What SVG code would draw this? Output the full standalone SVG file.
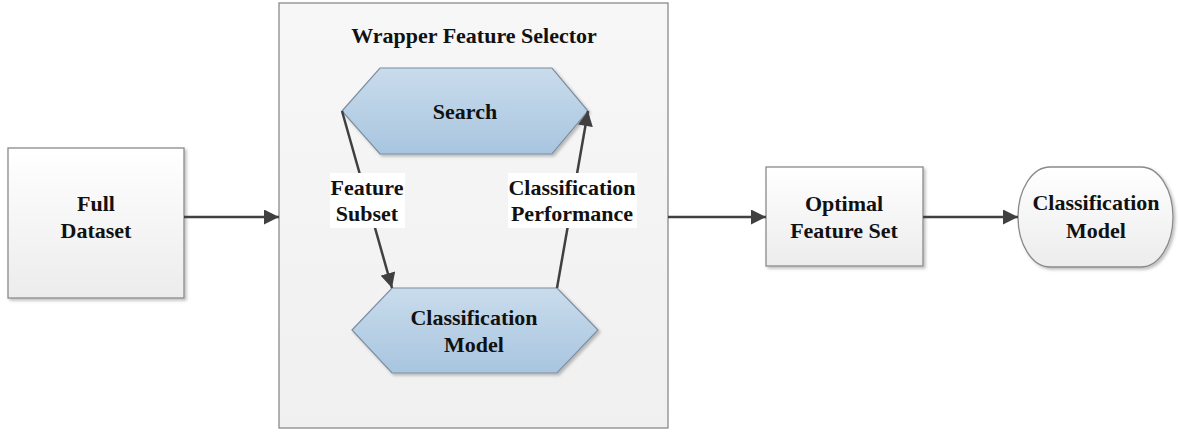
<svg xmlns="http://www.w3.org/2000/svg" width="1179" height="432" viewBox="0 0 1179 432">
<defs>
<linearGradient id="gbox" x1="0" y1="0" x2="0" y2="1"><stop offset="0" stop-color="#ffffff"/><stop offset="1" stop-color="#ececec"/></linearGradient>
<linearGradient id="gwrap" x1="0" y1="0" x2="0" y2="1"><stop offset="0" stop-color="#f7f7f7"/><stop offset="1" stop-color="#f0f0f0"/></linearGradient>
<linearGradient id="ghex" x1="0" y1="0" x2="0" y2="1"><stop offset="0" stop-color="#c9dcec"/><stop offset="1" stop-color="#a8c5df"/></linearGradient>
<filter id="sh" x="-10%" y="-10%" width="130%" height="130%"><feDropShadow dx="2" dy="2" stdDeviation="1.5" flood-color="#000" flood-opacity="0.25"/></filter>
<marker id="ah" viewBox="0 0 10 10" refX="10" refY="5" markerWidth="6.2" markerHeight="6" orient="auto" markerUnits="strokeWidth"><path d="M0,0 L10,5 L0,10 z" fill="#404040"/></marker>
<style>
.box{fill:url(#gbox);stroke:#8a8a8a;stroke-width:1.3;filter:url(#sh)}
.wrap{fill:url(#gwrap);stroke:#8a8a8a;stroke-width:1.3}
.hex{fill:url(#ghex);stroke:#7d8ea0;stroke-width:1.2;filter:url(#sh)}
.t{font-family:"Liberation Serif","Times New Roman",serif;font-weight:bold;font-size:22px;fill:#111;text-anchor:middle;dominant-baseline:central}
.c{stroke:#404040;stroke-width:2.5;fill:none;marker-end:url(#ah)}
.lb{fill:#ffffff}
</style>
</defs>
<g id="wrapper">
<rect class="wrap" x="279" y="3" width="389" height="425"/>
<text class="t" x="474" y="35">Wrapper Feature Selector</text>
</g>
<g id="full-dataset">
<rect class="box" x="8" y="148" width="176" height="150"/>
<text class="t" x="96" y="203">Full</text>
<text class="t" x="96" y="230">Dataset</text>
</g>
<g id="search">
<polygon class="hex" points="342,111 380,68 552,68 588,111 552,154 380,154"/>
<text class="t" x="465" y="111">Search</text>
</g>
<g id="classification-model-inner">
<polygon class="hex" points="352,330 392,288 557,288 598,330 557,373 392,373"/>
<text class="t" x="474" y="317">Classification</text>
<text class="t" x="474" y="344">Model</text>
</g>
<g id="optimal-feature-set">
<rect class="box" x="766" y="167" width="157" height="99"/>
<text class="t" x="844" y="203">Optimal</text>
<text class="t" x="844" y="230">Feature Set</text>
</g>
<g id="classification-model">
<rect class="box" x="1018" y="167" width="155" height="100" rx="32" ry="50"/>
<text class="t" x="1096" y="202">Classification</text>
<text class="t" x="1096" y="230">Model</text>
</g>
<g id="connectors">
<line class="c" x1="184" y1="217" x2="279" y2="217"/>
<line class="c" x1="342" y1="111" x2="392" y2="288"/>
<line class="c" x1="557" y1="288" x2="588" y2="111"/>
<line class="c" x1="668" y1="217" x2="766" y2="217"/>
<line class="c" x1="923" y1="217" x2="1018" y2="217"/>
<rect class="lb" x="330" y="173" width="75" height="55"/>
<text class="t" x="367" y="187">Feature</text>
<text class="t" x="367" y="213">Subset</text>
<rect class="lb" x="508" y="173" width="129" height="55"/>
<text class="t" x="572" y="187">Classification</text>
<text class="t" x="572" y="213">Performance</text>
</g>
</svg>
